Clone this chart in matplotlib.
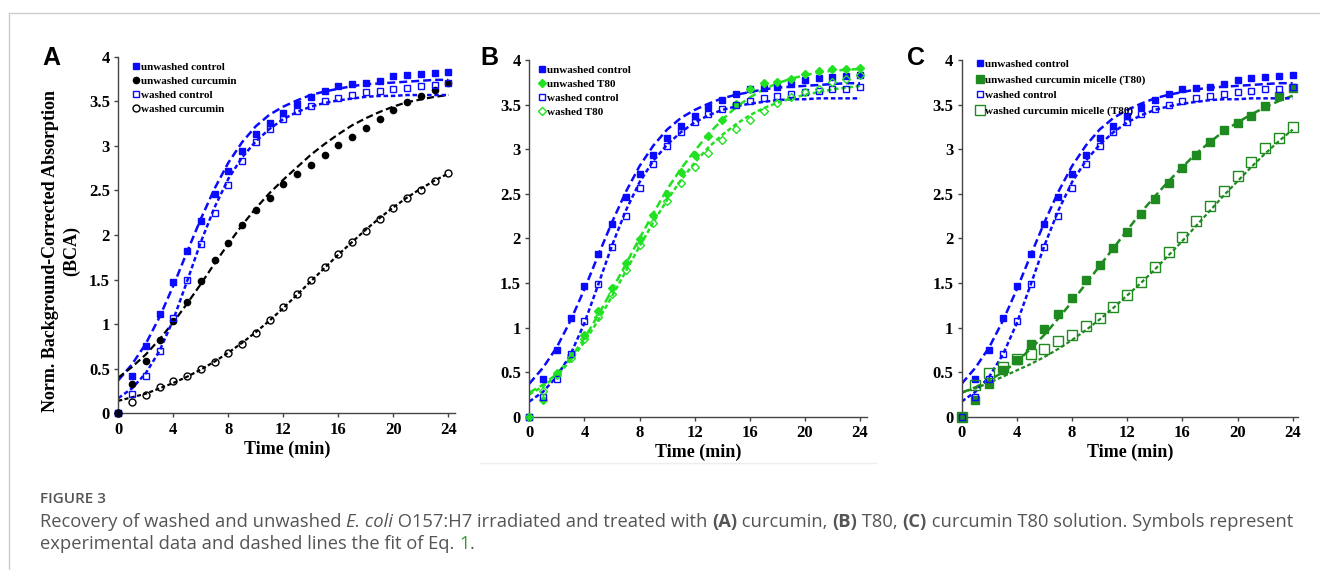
import matplotlib
matplotlib.use("Agg")
import matplotlib.pyplot as plt
from matplotlib.lines import Line2D
from matplotlib.ticker import FuncFormatter

# time points (min)
t = list(range(0, 25))

# ---- control series (same in all three panels) ----
unwashed_control = [0, 0.42, 0.75, 1.11, 1.47, 1.82, 2.16, 2.46, 2.72, 2.94, 3.13, 3.26, 3.37,
                    3.47, 3.55, 3.62, 3.67, 3.69, 3.70, 3.73, 3.78, 3.80, 3.81, 3.82, 3.83]
washed_control = [0, 0.22, 0.42, 0.70, 1.07, 1.49, 1.90, 2.25, 2.56, 2.83, 3.04, 3.19, 3.30,
                  3.39, 3.45, 3.50, 3.54, 3.57, 3.60, 3.62, 3.64, 3.65, 3.67, 3.68, 3.70]
fit_unwashed_control = [0.37, 0.55, 0.78, 1.08, 1.43, 1.81, 2.18, 2.52, 2.81, 3.04, 3.22, 3.35, 3.44,
                        3.51, 3.57, 3.61, 3.64, 3.67, 3.69, 3.70, 3.71, 3.72, 3.73, 3.74, 3.74]
fit_washed_control = [0.17, 0.28, 0.45, 0.70, 1.05, 1.48, 1.92, 2.31, 2.63, 2.87, 3.05, 3.19, 3.30,
                      3.38, 3.44, 3.48, 3.51, 3.53, 3.55, 3.56, 3.56, 3.57, 3.57, 3.57, 3.57]

# ---- panel A: curcumin ----
unwashed_curcumin = [0, 0.33, 0.59, 0.82, 1.03, 1.25, 1.48, 1.72, 1.91, 2.11, 2.28, 2.42, 2.57,
                     2.68, 2.78, 2.90, 3.01, 3.10, 3.20, 3.30, 3.40, 3.49, 3.56, 3.63, 3.70]
washed_curcumin = [0, 0.13, 0.21, 0.29, 0.36, 0.42, 0.50, 0.58, 0.68, 0.78, 0.90, 1.05, 1.19,
                   1.34, 1.50, 1.64, 1.79, 1.92, 2.05, 2.18, 2.30, 2.41, 2.51, 2.61, 2.70]
fit_unwashed_curcumin = [0.40, 0.52, 0.66, 0.83, 1.02, 1.23, 1.45, 1.68, 1.90, 2.11, 2.30, 2.47, 2.62,
                         2.76, 2.90, 3.02, 3.13, 3.23, 3.31, 3.38, 3.44, 3.49, 3.52, 3.55, 3.57]
fit_washed_curcumin = [0.14, 0.18, 0.22, 0.28, 0.34, 0.41, 0.49, 0.58, 0.68, 0.79, 0.91, 1.04, 1.18,
                       1.33, 1.48, 1.63, 1.78, 1.92, 2.06, 2.19, 2.31, 2.42, 2.52, 2.61, 2.69]

# ---- panel B: T80 ----
unwashed_t80 = [0, 0.19, 0.49, 0.69, 0.92, 1.18, 1.44, 1.72, 1.99, 2.26, 2.50, 2.74, 2.94,
                3.15, 3.33, 3.51, 3.67, 3.74, 3.75, 3.79, 3.84, 3.88, 3.90, 3.90, 3.91]
washed_t80 = [0, 0.29, 0.47, 0.66, 0.87, 1.12, 1.38, 1.65, 1.92, 2.17, 2.42, 2.62, 2.80,
              2.96, 3.10, 3.23, 3.33, 3.43, 3.52, 3.59, 3.64, 3.68, 3.75, 3.79, 3.83]
fit_unwashed_t80 = [0.27, 0.36, 0.48, 0.66, 0.88, 1.14, 1.42, 1.71, 2.00, 2.28, 2.55, 2.78, 2.98,
                    3.17, 3.33, 3.47, 3.58, 3.67, 3.74, 3.79, 3.83, 3.86, 3.88, 3.89, 3.90]
fit_washed_t80 = [0.25, 0.34, 0.46, 0.63, 0.84, 1.08, 1.35, 1.63, 1.91, 2.18, 2.43, 2.65, 2.85,
                  3.02, 3.16, 3.28, 3.38, 3.46, 3.52, 3.57, 3.61, 3.64, 3.67, 3.69, 3.71]

# ---- panel C: curcumin micelle (T80) ----
unwashed_micelle = [0, 0.19, 0.37, 0.52, 0.64, 0.81, 0.98, 1.15, 1.33, 1.53, 1.70, 1.89, 2.07,
                    2.27, 2.44, 2.62, 2.79, 2.93, 3.08, 3.21, 3.29, 3.37, 3.48, 3.60, 3.69]
washed_micelle = [0, 0.36, 0.49, 0.56, 0.65, 0.70, 0.76, 0.85, 0.92, 1.02, 1.11, 1.23, 1.36,
                  1.51, 1.68, 1.85, 2.02, 2.19, 2.36, 2.53, 2.70, 2.86, 3.01, 3.13, 3.25]
fit_unwashed_micelle = [0.27, 0.33, 0.41, 0.50, 0.62, 0.76, 0.92, 1.10, 1.29, 1.49, 1.69, 1.89, 2.09,
                        2.29, 2.47, 2.64, 2.80, 2.95, 3.08, 3.20, 3.30, 3.39, 3.47, 3.54, 3.60]
fit_washed_micelle = [0.27, 0.32, 0.38, 0.45, 0.52, 0.59, 0.67, 0.76, 0.86, 0.97, 1.09, 1.22, 1.36,
                      1.50, 1.65, 1.81, 1.97, 2.14, 2.31, 2.48, 2.64, 2.80, 2.95, 3.09, 3.22]

yticks = [0, 0.5, 1, 1.5, 2, 2.5, 3, 3.5, 4]
xticks = [0, 4, 8, 12, 16, 20, 24]

BLUE = "#0a0aff"
GREEN = "#22e022"
DKGREEN = "#1f8a1f"
SERIF = "Liberation Serif"
W, H = 1320, 570

LONG = (3.2, 1.6)
SHORT = (1.8, 1.1)


def fx(x):
    return x / W


def fy(y):
    return 1 - y / H


def make_axes(fig, x0, y0, ytop, pxmin, xmax):
    # x0,y0 = pixel position of data origin, ytop = pixel of y=4, pxmin = pixels per minute
    ax = fig.add_axes([fx(x0), fy(y0), xmax * pxmin / W, (y0 - ytop) / H])
    ax.set_xlim(0, xmax)
    ax.set_ylim(0, 4)
    for s in ("top", "right"):
        ax.spines[s].set_visible(False)
    for s in ("left", "bottom"):
        ax.spines[s].set_color("#444444")
        ax.spines[s].set_linewidth(1.0)
    ax.set_xticks(xticks)
    ax.set_yticks(yticks)
    ax.yaxis.set_major_formatter(FuncFormatter(lambda v, p: f"{v:g}"))
    ax.tick_params(direction="out", length=3, width=1, color="#444444", pad=3,
                   labelsize=12, labelcolor="black")
    for lab in ax.get_xticklabels() + ax.get_yticklabels():
        lab.set_fontfamily(SERIF)
        lab.set_fontweight("bold")
    ax.set_xlabel("Time (min)", fontfamily=SERIF, fontweight="bold", fontsize=13, labelpad=2)
    return ax


def series(ax, y, fit, color, marker, filled, dashes, ms=5.0, lw=1.8):
    ax.plot(t, fit, color=color, lw=lw, dashes=dashes, zorder=2)
    ax.plot(t, y, ls="none", marker=marker, ms=ms, mec=color, mew=1.0,
            mfc=color if filled else "none", clip_on=False, zorder=3)


def legend(fig, ax, entries, x, y, spacing):
    handles = [Line2D([], [], ls="none", marker=m, ms=ms, mec=c, mew=1.0,
                      mfc=c if f else "none") for (_, c, m, f, ms) in entries]
    labels = [e[0] for e in entries]
    ax.legend(handles, labels, loc="upper left", bbox_to_anchor=(fx(x), fy(y)),
              bbox_transform=fig.transFigure, frameon=False, borderpad=0,
              handlelength=0.6, handletextpad=0.15, labelspacing=spacing,
              prop={"family": SERIF, "weight": "bold", "size": 8})


fig = plt.figure(figsize=(W / 100, H / 100), dpi=100)

# outer page border
fig.add_artist(Line2D([fx(9), 1], [fy(13), fy(13)], color="#cccccc", lw=1))
fig.add_artist(Line2D([fx(9), fx(9)], [fy(13), 0], color="#cccccc", lw=1))
fig.add_artist(Line2D([fx(480), fx(876)], [fy(463), fy(463)], color="#eeeeee", lw=1))

# ---------- A ----------
axA = make_axes(fig, 118.3, 413.3, 56.7, 13.75, 24.5)
series(axA, unwashed_control, fit_unwashed_control, BLUE, "s", True, LONG, ms=4.5)
series(axA, unwashed_curcumin, fit_unwashed_curcumin, "black", "o", True, LONG, ms=4.5, lw=1.6)
series(axA, washed_control, fit_washed_control, BLUE, "s", False, SHORT, ms=5)
series(axA, washed_curcumin, fit_washed_curcumin, "black", "o", False, SHORT, ms=5, lw=1.6)
legend(fig, axA, [("unwashed control", BLUE, "s", True, 4.5),
                  ("unwashed curcumin", "black", "o", True, 4.5),
                  ("washed control", BLUE, "s", False, 5),
                  ("washed curcumin", "black", "o", False, 5)], 127, 57, 0.38)
fig.text(fx(61), fy(251), "Norm. Background-Corrected Absorption\n(BCA)", rotation=90,
         ha="center", va="center", multialignment="center",
         fontfamily=SERIF, fontweight="bold", fontsize=13, linespacing=1.25)

# ---------- B ----------
axB = make_axes(fig, 529.3, 416.7, 60.0, 13.78, 24.5)
series(axB, unwashed_control, fit_unwashed_control, BLUE, "s", True, LONG, ms=4.5)
series(axB, unwashed_t80, fit_unwashed_t80, GREEN, "D", True, LONG, ms=4.5)
series(axB, washed_control, fit_washed_control, BLUE, "s", False, SHORT, ms=5)
series(axB, washed_t80, fit_washed_t80, GREEN, "D", False, SHORT, ms=4.5)
legend(fig, axB, [("unwashed control", BLUE, "s", True, 4.5),
                  ("unwashed T80", GREEN, "D", True, 4.5),
                  ("washed control", BLUE, "s", False, 5),
                  ("washed T80", GREEN, "D", False, 4.5)], 533, 60, 0.38)

# ---------- C ----------
axC = make_axes(fig, 961.7, 416.7, 60.0, 13.79, 24.4)
series(axC, unwashed_control, fit_unwashed_control, BLUE, "s", True, LONG, ms=4.5)
series(axC, unwashed_micelle, fit_unwashed_micelle, DKGREEN, "s", True, LONG, ms=6)
series(axC, washed_control, fit_washed_control, BLUE, "s", False, SHORT, ms=5)
series(axC, washed_micelle, fit_washed_micelle, DKGREEN, "s", False, SHORT, ms=6.5, lw=1.6)
legend(fig, axC, [("unwashed control", BLUE, "s", True, 4.5),
                  ("unwashed curcumin micelle (T80)", DKGREEN, "s", True, 6),
                  ("washed control", BLUE, "s", False, 5),
                  ("washed curcumin micelle (T80)", DKGREEN, "s", False, 6.5)], 971, 54, 0.5)

# panel letters
for letter, x in (("A", 51), ("B", 489), ("C", 916)):
    fig.text(fx(x), fy(58), letter, ha="center", va="center",
             fontfamily="Liberation Sans", fontweight="bold", fontsize=18)

# ---------- caption ----------
CAP = "#555555"
CAPFONT = "Open Sans"
CAPSIZE = 13.2
fig.text(fx(40), fy(499), "FIGURE 3", ha="left", va="center", color=CAP,
         fontfamily=CAPFONT, fontsize=11, fontweight="semibold")

renderer = fig.canvas.get_renderer()


def rich_line(x, y, parts):
    for txt, style in parts:
        kw = dict(ha="left", va="center", color=CAP, fontfamily=CAPFONT, fontsize=CAPSIZE)
        if style == "b":
            kw["fontweight"] = "bold"
        elif style == "i":
            kw["fontstyle"] = "italic"
        elif style == "g":
            kw["color"] = "#2ca02c"
        tx = fig.text(x, y, txt, **kw)
        x += tx.get_window_extent(renderer).width / fig.bbox.width


rich_line(fx(40), fy(522), [("Recovery of washed and unwashed ", ""), ("E. coli", "i"),
                            (" O157:H7 irradiated and treated with ", ""), ("(A)", "b"),
                            (" curcumin, ", ""), ("(B)", "b"), (" T80, ", ""), ("(C)", "b"),
                            (" curcumin T80 solution. Symbols represent", "")])
rich_line(fx(40), fy(544), [("experimental data and dashed lines the fit of Eq. ", ""), ("1", "g"),
                            (".", "")])

fig.savefig("out.png", dpi=100)
